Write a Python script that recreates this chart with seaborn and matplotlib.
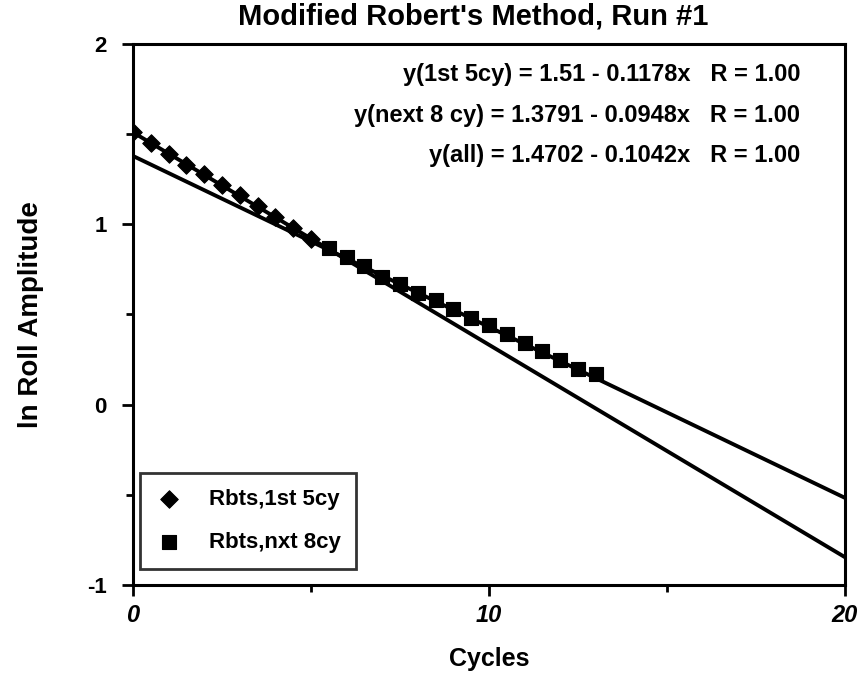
import matplotlib
matplotlib.use("Agg")
import matplotlib.pyplot as plt
import seaborn as sns
import numpy as np
import pandas as pd
from matplotlib.ticker import MultipleLocator

# donnees
cycles_1st = [0, 0.5, 1, 1.5, 2, 2.5, 3, 3.5, 4, 4.5, 5]
amp_1st = [1.51, 1.45, 1.39, 1.33, 1.28, 1.22, 1.16, 1.10, 1.04, 0.98, 0.92]

cycles_nxt = [5.5, 6, 6.5, 7, 7.5, 8, 8.5, 9, 9.5, 10, 10.5, 11, 11.5, 12, 12.5, 13]
amp_nxt = [0.87, 0.82, 0.77, 0.71, 0.67, 0.62, 0.58, 0.53, 0.48, 0.44, 0.39, 0.34,
           0.30, 0.25, 0.20, 0.17]

# droites de regression (ordonnee, pente)
fit_intercepts = [1.51, 1.3791]
fit_slopes = [-0.1178, -0.0948]
fit_x = [0, 20]

x_ticks = [0, 10, 20]
y_ticks = [-1, 0, 1, 2]

equations = ["y(1st 5cy) = 1.51 - 0.1178x   R = 1.00",
             "y(next 8 cy) = 1.3791 - 0.0948x   R = 1.00",
             "y(all) = 1.4702 - 0.1042x   R = 1.00"]

sns.set_style("ticks")
plt.rcParams['font.family'] = ['Liberation Sans', 'DejaVu Sans']
plt.rcParams['font.weight'] = 'bold'
plt.rcParams['text.color'] = 'black'
plt.rcParams['axes.labelcolor'] = 'black'
plt.rcParams['xtick.color'] = 'black'
plt.rcParams['ytick.color'] = 'black'
plt.rcParams['axes.unicode_minus'] = False

fig = plt.figure(figsize=(8.68, 6.83), dpi=100)
ax = fig.add_axes([0.1532, 0.1435, 0.8203, 0.7921])

for b, a in zip(fit_intercepts, fit_slopes):
    xs = np.array(fit_x, dtype=float)
    sns.lineplot(x=xs, y=b + a * xs, ax=ax, color="black", linewidth=2.8)

df1 = pd.DataFrame({"x": cycles_1st, "y": amp_1st})
df2 = pd.DataFrame({"x": cycles_nxt, "y": amp_nxt})
sns.scatterplot(data=df1, x="x", y="y", ax=ax, marker="D", s=80, color="black",
                edgecolor="black", label="Rbts,1st 5cy", zorder=3)
sns.scatterplot(data=df2, x="x", y="y", ax=ax, marker="s", s=100, color="black",
                edgecolor="black", label="Rbts,nxt 8cy", zorder=3)

ax.set_xlim(0, 20)
ax.set_ylim(-1, 2)
ax.set_xticks(x_ticks, labels=[str(v) for v in x_ticks])
ax.set_yticks(y_ticks, labels=[str(v) for v in y_ticks])
ax.xaxis.set_minor_locator(MultipleLocator(5))
ax.yaxis.set_minor_locator(MultipleLocator(0.5))
ax.tick_params(which="major", direction="out", length=8, width=2)
ax.tick_params(which="minor", direction="out", length=5, width=2)
ax.tick_params(axis="x", which="major", pad=6, labelsize=17)
ax.tick_params(axis="y", which="major", pad=11, labelsize=16)
for lab in ax.get_xticklabels():
    lab.set_fontstyle("italic")
    lab.set_fontweight("bold")
for lab in ax.get_yticklabels():
    lab.set_fontweight("bold")
for sp in ax.spines.values():
    sp.set_visible(True)
    sp.set_linewidth(2.2)
    sp.set_color("black")

ax.set_xlabel("Cycles", fontsize=18, fontweight="bold", labelpad=14)
ax.set_ylabel("ln Roll Amplitude", fontsize=20, fontweight="bold", labelpad=31)
ax.set_title("Modified Robert's Method, Run #1", fontsize=21, fontweight="bold",
             pad=14, x=0.478)

for i, eq in enumerate(equations):
    ax.text(0.937, 0.944 - i * 0.0755, eq, transform=ax.transAxes, ha="right",
            va="center", fontsize=17, fontweight="bold")

leg = ax.legend(loc="lower left", bbox_to_anchor=(0.01, 0.03), frameon=True,
                fancybox=False, fontsize=16, handletextpad=1.2, handlelength=1.2,
                borderpad=0.7, labelspacing=1.0, borderaxespad=0)
leg.get_frame().set_edgecolor("black")
leg.get_frame().set_linewidth(2)
for t in leg.get_texts():
    t.set_fontweight("bold")

fig.savefig("out.png", dpi=100)
